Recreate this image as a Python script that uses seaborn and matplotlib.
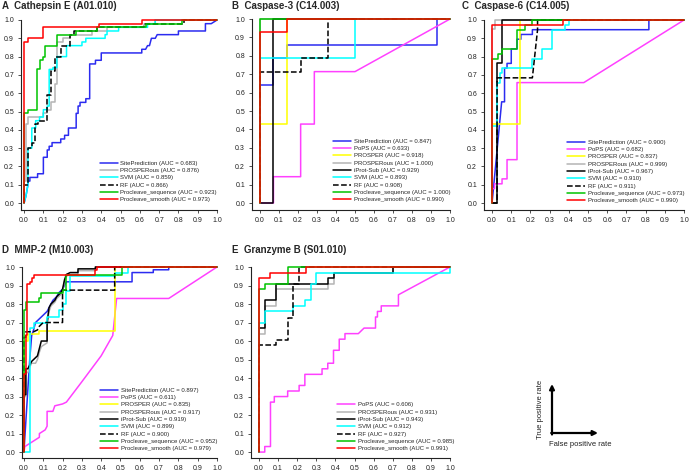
import matplotlib
matplotlib.use("Agg")
import matplotlib.pyplot as plt
import seaborn as sns
import pandas as pd

# ---- ROC curves as (fpr, tpr) vertices ----
# A  Cathepsin E
a_site = [(0, 0), (0.01, 0.04), (0.02, 0.10), (0.02, 0.12), (0.03, 0.12), (0.03, 0.14), (0.07, 0.14), (0.07, 0.16),
          (0.10, 0.16), (0.10, 0.25), (0.12, 0.25), (0.12, 0.29), (0.13, 0.29), (0.13, 0.31), (0.145, 0.31), (0.145, 0.33),
          (0.19, 0.33), (0.19, 0.35), (0.21, 0.35), (0.21, 0.37), (0.23, 0.37), (0.23, 0.41), (0.27, 0.41), (0.27, 0.49),
          (0.28, 0.49), (0.28, 0.53), (0.29, 0.53), (0.29, 0.55), (0.32, 0.55), (0.32, 0.57), (0.34, 0.57), (0.34, 0.76),
          (0.37, 0.76), (0.37, 0.78), (0.40, 0.78), (0.40, 0.82), (0.61, 0.82), (0.61, 0.84), (0.63, 0.84), (0.64, 0.86),
          (0.65, 0.86), (0.66, 0.90), (0.68, 0.90), (0.69, 0.92), (0.80, 0.92), (0.80, 0.94), (0.94, 0.94), (0.94, 0.98),
          (0.97, 0.98), (1, 1)]
a_pros = [(0, 0), (0, 0.12), (0.01, 0.12), (0.01, 0.43), (0.02, 0.43), (0.02, 0.47), (0.10, 0.47), (0.10, 0.49),
          (0.12, 0.49), (0.12, 0.51), (0.14, 0.51), (0.14, 0.55), (0.16, 0.55), (0.16, 0.65), (0.17, 0.65), (0.17, 0.88),
          (0.20, 0.88), (0.20, 0.90), (0.24, 0.90), (0.24, 0.92), (0.35, 0.92), (0.35, 0.94), (0.43, 0.94), (0.43, 0.96),
          (0.62, 0.96), (0.62, 0.98), (0.68, 0.98), (0.68, 1.0), (1, 1)]
a_svm = [(0, 0), (0.01, 0.04), (0.02, 0.10), (0.02, 0.30), (0.04, 0.30), (0.04, 0.41), (0.06, 0.41), (0.06, 0.45),
         (0.08, 0.45), (0.08, 0.47), (0.10, 0.47), (0.10, 0.51), (0.12, 0.51), (0.12, 0.53), (0.13, 0.53), (0.13, 0.73),
         (0.15, 0.73), (0.15, 0.74), (0.17, 0.74), (0.17, 0.80), (0.22, 0.80), (0.22, 0.86), (0.30, 0.86), (0.30, 0.88),
         (0.32, 0.88), (0.32, 0.90), (0.42, 0.90), (0.42, 0.92), (0.43, 0.92), (0.43, 0.94), (0.49, 0.94), (0.49, 0.96),
         (0.64, 0.96), (0.64, 0.98), (0.68, 0.98), (0.68, 1.0), (1, 1)]
a_rf = [(0, 0), (0, 0.10), (0.02, 0.10), (0.02, 0.30), (0.04, 0.30), (0.04, 0.33), (0.055, 0.33), (0.055, 0.43),
        (0.07, 0.43), (0.07, 0.45), (0.12, 0.45), (0.12, 0.59), (0.14, 0.59), (0.14, 0.72), (0.16, 0.72), (0.16, 0.80),
        (0.19, 0.80), (0.19, 0.86), (0.24, 0.86), (0.24, 0.92), (0.26, 0.92), (0.26, 0.94), (0.38, 0.94), (0.38, 0.96),
        (0.62, 0.96), (0.62, 0.98), (0.83, 0.98), (0.83, 1.0), (1, 1)]
a_seq = [(0, 0), (0, 0.49), (0.02, 0.49), (0.02, 0.51), (0.065, 0.51), (0.065, 0.73), (0.08, 0.73), (0.08, 0.78),
         (0.10, 0.78), (0.10, 0.80), (0.11, 0.80), (0.11, 0.86), (0.14, 0.86), (0.14, 0.86), (0.17, 0.86), (0.17, 0.92),
         (0.27, 0.92), (0.27, 0.94), (0.38, 0.94), (0.38, 0.96), (0.63, 0.96), (0.63, 0.98), (0.82, 0.98), (0.82, 1.0),
         (1, 1)]
a_smooth = [(0, 0), (0, 0.88), (0.02, 0.88), (0.02, 0.90), (0.10, 0.90), (0.10, 0.96), (0.39, 0.96), (0.39, 0.98),
            (0.61, 0.98), (0.61, 1.0), (1, 1)]

# B  Caspase-3
b_site = [(0, 0), (0, 0.643), (0.071, 0.643), (0.071, 0.786), (0.143, 0.786), (0.143, 0.857), (0.929, 0.857),
          (0.929, 1.0), (1, 1)]
b_pops = [(0, 0), (0.071, 0), (0.071, 0.143), (0.214, 0.143), (0.214, 0.429), (0.286, 0.429), (0.286, 0.714),
          (0.5, 0.714), (1, 1)]
b_prosper = [(0, 0), (0, 0.429), (0.143, 0.429), (0.143, 1.0), (1, 1)]
b_pros = [(0, 0), (0, 1.0), (1, 1)]
b_iprot = [(0, 0), (0.071, 0), (0.071, 1.0), (1, 1)]
b_svm = [(0, 0), (0, 0.786), (0.5, 0.786), (0.5, 1.0), (1, 1)]
b_rf = [(0, 0), (0, 0.714), (0.214, 0.714), (0.214, 0.786), (0.357, 0.786), (0.357, 1.0), (1, 1)]
b_seq = [(0, 0), (0, 1.0), (1, 1)]
b_smooth = [(0, 0), (0, 0.929), (0.143, 0.929), (0.143, 1.0), (1, 1)]

# C  Caspase-6
c_site = [(0, 0), (0.05, 0.553), (0.065, 0.553), (0.065, 0.737), (0.078, 0.737), (0.078, 0.763), (0.10, 0.763),
          (0.10, 0.842), (0.13, 0.842), (0.13, 0.895), (0.15, 0.895), (0.15, 0.921), (0.21, 0.921), (0.21, 0.947),
          (0.817, 0.947), (0.817, 1.0), (1, 1)]
c_pops = [(0, 0), (0, 0.079), (0.013, 0.079), (0.013, 0.105), (0.052, 0.105), (0.052, 0.132), (0.078, 0.132),
          (0.078, 0.237), (0.13, 0.237), (0.13, 0.658), (0.478, 0.658), (1, 1)]
c_prosper = [(0, 0), (0, 0.43), (0.143, 0.43), (0.143, 1.0), (1, 1)]
c_pros = [(0, 0), (0, 0.95), (0.016, 0.95), (0.016, 1.0), (1, 1)]
c_iprot = [(0, 0), (0.026, 0), (0.026, 0.763), (0.052, 0.763), (0.052, 1.0), (1, 1)]
c_svm = [(0, 0), (0, 0.42), (0.026, 0.42), (0.026, 0.658), (0.04, 0.658), (0.04, 0.711), (0.052, 0.711),
         (0.052, 0.737), (0.21, 0.737), (0.21, 0.789), (0.26, 0.789), (0.26, 0.842), (0.31, 0.842), (0.31, 0.947),
         (0.38, 0.947), (0.38, 0.974), (0.40, 0.974), (0.40, 1.0), (1, 1)]
c_rf = [(0, 0), (0.026, 0), (0.026, 0.684), (0.21, 0.684), (0.237, 0.947), (0.237, 1.0), (1, 1)]
c_seq = [(0, 0), (0, 0.789), (0.03, 0.789), (0.03, 0.816), (0.05, 0.816), (0.05, 0.842), (0.13, 0.842),
         (0.13, 0.947), (0.17, 0.947), (0.17, 0.974), (0.21, 0.974), (0.21, 1.0), (1, 1)]
c_smooth = [(0, 0), (0, 0.974), (0.37, 0.974), (0.37, 1.0), (1, 1)]

# D  MMP-2
d_site = [(0, 0), (0.03, 0.50), (0.04, 0.63), (0.05, 0.66), (0.06, 0.70), (0.08, 0.72), (0.10, 0.74),
          (0.12, 0.76), (0.14, 0.80), (0.15, 0.82), (0.17, 0.84), (0.18, 0.86), (0.20, 0.88), (0.22, 0.92),
          (0.56, 0.92), (0.56, 0.97), (0.67, 0.97), (0.67, 0.985), (0.75, 0.985), (0.75, 1.0), (1, 1)]
d_pops = [(0, 0), (0.005, 0.03), (0.05, 0.06), (0.08, 0.08), (0.08, 0.10), (0.11, 0.12), (0.12, 0.14), (0.12, 0.22),
          (0.15, 0.22), (0.16, 0.25), (0.20, 0.26), (0.22, 0.27), (0.30, 0.38), (0.40, 0.52), (0.46, 0.63),
          (0.48, 0.83), (0.75, 0.83), (1, 1)]
d_prosper = [(0, 0), (0, 0.60), (0.02, 0.60), (0.02, 0.64), (0.08, 0.64), (0.08, 0.655), (0.47, 0.655),
             (0.47, 1.0), (1, 1)]
d_pros = [(0, 0), (0, 0.30), (0.01, 0.30), (0.01, 0.43), (0.02, 0.43), (0.03, 0.46), (0.04, 0.48), (0.06, 0.48),
          (0.07, 0.50), (0.08, 0.54), (0.09, 0.57), (0.12, 0.59), (0.12, 0.68), (0.13, 0.76), (0.14, 0.79),
          (0.16, 0.81), (0.17, 0.83), (0.19, 0.85), (0.20, 0.87), (0.21, 0.92), (0.22, 0.95), (0.24, 0.96),
          (0.28, 0.96), (0.28, 0.98), (0.37, 0.98), (0.37, 1.0), (1, 1)]
d_iprot = [(0, 0), (0, 0.31), (0.01, 0.31), (0.01, 0.45), (0.02, 0.45), (0.03, 0.47), (0.04, 0.49), (0.05, 0.50),
           (0.07, 0.52), (0.08, 0.56), (0.09, 0.60), (0.12, 0.60), (0.12, 0.70), (0.13, 0.78), (0.14, 0.80),
           (0.16, 0.82), (0.17, 0.84), (0.19, 0.86), (0.20, 0.88), (0.21, 0.93), (0.22, 0.96), (0.24, 0.97),
           (0.28, 0.97), (0.28, 0.99), (0.37, 0.99), (0.37, 1.0), (1, 1)]
d_svm = [(0, 0), (0.03, 0), (0.03, 0.67), (0.05, 0.67), (0.05, 0.70), (0.12, 0.70), (0.12, 0.73), (0.18, 0.73),
         (0.18, 0.77), (0.20, 0.77), (0.20, 0.80), (0.22, 0.80), (0.22, 0.87), (0.24, 0.87), (0.24, 0.95),
         (0.47, 0.95), (0.47, 0.97), (0.54, 0.97), (0.54, 1.0), (1, 1)]
d_rf = [(0, 0), (0, 0.62), (0.01, 0.62), (0.01, 0.65), (0.05, 0.65), (0.07, 0.66), (0.08, 0.68), (0.10, 0.70),
        (0.20, 0.70), (0.20, 0.875), (0.47, 0.875), (0.47, 1.0), (1, 1)]
d_seq = [(0, 0), (0, 0.77), (0.01, 0.77), (0.01, 0.81), (0.08, 0.81), (0.08, 0.83), (0.09, 0.83), (0.09, 0.86),
         (0.20, 0.86), (0.20, 0.875), (0.22, 0.875), (0.22, 0.955), (0.51, 0.955), (0.51, 1.0), (1, 1)]
d_smooth = [(0, 0), (0, 0.42), (0.01, 0.42), (0.01, 0.63), (0.015, 0.63), (0.015, 0.91), (0.03, 0.91),
            (0.03, 0.92), (0.04, 0.92), (0.04, 0.94), (0.05, 0.94), (0.05, 0.958), (0.37, 0.958), (0.37, 0.986),
            (0.38, 0.986), (0.38, 1.0), (1, 1)]

# E  Granzyme B
e_pops = [(0, 0), (0.03, 0), (0.03, 0.03), (0.06, 0.03), (0.06, 0.27), (0.08, 0.27), (0.08, 0.30), (0.15, 0.30),
          (0.15, 0.33), (0.21, 0.33), (0.21, 0.36), (0.24, 0.36), (0.24, 0.42), (0.33, 0.42), (0.33, 0.45),
          (0.36, 0.45), (0.36, 0.48), (0.39, 0.48), (0.39, 0.55), (0.42, 0.55), (0.42, 0.61), (0.45, 0.61),
          (0.45, 0.64), (0.52, 0.64), (0.55, 0.67), (0.61, 0.67), (0.61, 0.73), (0.62, 0.73), (0.62, 0.76),
          (0.64, 0.76), (0.64, 0.79), (0.73, 0.79), (0.73, 0.85), (1, 1)]
e_pros = [(0, 0), (0, 0.64), (0.03, 0.64), (0.03, 0.79), (0.09, 0.79), (0.09, 0.88), (0.36, 0.88), (0.36, 0.91),
          (0.39, 0.91), (0.39, 0.97), (0.70, 0.97), (0.70, 1.0), (1, 1)]
e_iprot = [(0, 0), (0, 0.67), (0.03, 0.67), (0.03, 0.82), (0.09, 0.82), (0.09, 0.91), (0.36, 0.91), (0.36, 0.94),
           (0.39, 0.94), (0.39, 0.97), (0.70, 0.97), (0.70, 1.0), (1, 1)]
e_svm = [(0, 0), (0, 0.70), (0.03, 0.70), (0.03, 0.76), (0.18, 0.76), (0.18, 0.79), (0.24, 0.79), (0.24, 0.82),
         (0.27, 0.82), (0.27, 0.91), (0.30, 0.91), (0.30, 0.97), (1.0, 0.97), (1, 1)]
e_rf = [(0, 0), (0, 0.576), (0.09, 0.576), (0.09, 0.606), (0.15, 0.606), (0.15, 0.727), (0.18, 0.727),
        (0.18, 0.909), (0.21, 0.909), (0.21, 1.0), (1, 1)]
e_seq = [(0, 0), (0, 0.88), (0.03, 0.88), (0.03, 0.91), (0.15, 0.91), (0.15, 1.0), (1, 1)]
e_smooth = [(0, 0), (0, 0.94), (0.06, 0.94), (0.06, 0.97), (0.245, 0.97), (0.245, 1.0), (1, 1)]

# AUC values shown in the legends
a_auc = [0.683, 0.876, 0.859, 0.866, 0.923, 0.973]
b_auc = [0.847, 0.633, 0.918, 1.000, 0.929, 0.893, 0.908, 1.000, 0.990]
c_auc = [0.900, 0.682, 0.837, 0.999, 0.967, 0.910, 0.911, 0.973, 0.990]
d_auc = [0.897, 0.611, 0.835, 0.917, 0.919, 0.899, 0.900, 0.952, 0.979]
e_auc = [0.606, 0.931, 0.943, 0.912, 0.927, 0.985, 0.991]

titles = ["A  Cathepsin E (A01.010)", "B  Caspase-3 (C14.003)", "C  Caspase-6 (C14.005)",
          "D  MMP-2 (M10.003)", "E  Granzyme B (S01.010)"]
ticks = [0.0, 0.1, 0.2, 0.3, 0.4, 0.5, 0.6, 0.7, 0.8, 0.9, 1.0]

styles = {
    "SitePrediction": ("#2b2bf0", "-"),
    "PoPS": ("#ff40ff", "-"),
    "PROSPER": ("#ffff00", "-"),
    "PROSPERous": ("#b4b4b4", "-"),
    "iProt-Sub": ("#000000", "-"),
    "SVM": ("#00ffff", "-"),
    "RF": ("#000000", "--"),
    "Procleave_sequence": ("#00c400", "-"),
    "Procleave_smooth": ("#ff0000", "-"),
}

panels = [
    (["SitePrediction", "PROSPERous", "SVM", "RF", "Procleave_sequence", "Procleave_smooth"],
     [a_site, a_pros, a_svm, a_rf, a_seq, a_smooth], a_auc),
    (list(styles), [b_site, b_pops, b_prosper, b_pros, b_iprot, b_svm, b_rf, b_seq, b_smooth], b_auc),
    (list(styles), [c_site, c_pops, c_prosper, c_pros, c_iprot, c_svm, c_rf, c_seq, c_smooth], c_auc),
    (list(styles), [d_site, d_pops, d_prosper, d_pros, d_iprot, d_svm, d_rf, d_seq, d_smooth], d_auc),
    (["PoPS", "PROSPERous", "iProt-Sub", "SVM", "RF", "Procleave_sequence", "Procleave_smooth"],
     [e_pops, e_pros, e_iprot, e_svm, e_rf, e_seq, e_smooth], e_auc),
]

sns.set_style("ticks")
plt.rcParams["font.family"] = ["Liberation Sans", "DejaVu Sans"]

W, H = 689, 474
fig = plt.figure(figsize=(W / 100, H / 100), dpi=100)

# pixel boxes: (left spine, x=1.0, y=1.0, bottom spine), xmin, ymin, legend anchor (x, y in axes)
boxes = [
    ((21, 217, 20, 210), -0.016, -0.038, (1.0, 0.04)),
    ((252, 450, 19, 210), -0.042, -0.038, (1.0, 0.04)),
    ((484, 684, 20, 210), -0.042, -0.038, (1.0, 0.035)),
    ((22, 217, 267, 458), -0.010, -0.032, (1.0, 0.035)),
    ((251, 450, 267, 458), -0.042, -0.032, (1.02, 0.035)),
]
title_pos = [(2, 6), (232, 6), (462, 6), (2, 250), (232, 250)]

for (names, curves, aucs), (box, xmin, ymin, anchor), title, tpos in zip(panels, boxes, titles, title_pos):
    x0, x1, yt, yb = box
    ax = fig.add_axes([x0 / W, (H - yb) / H, (x1 - x0) / W, (yb - yt) / H])
    for name, pts, auc in zip(names, curves, aucs):
        df = pd.DataFrame(pts, columns=["fpr", "tpr"])
        color, ls = styles[name]
        sns.lineplot(data=df, x="fpr", y="tpr", sort=False, estimator=None, ax=ax, color=color,
                     linestyle=ls, lw=1.1, label=f"{name} (AUC = {auc:.3f})", clip_on=False)
    ax.set_xlim(xmin, 1.0)
    ax.set_ylim(ymin, 1.0)
    ax.set_xticks(ticks)
    ax.set_yticks(ticks)
    ax.set_xticklabels([f"{t:.1f}" for t in ticks])
    ax.set_yticklabels([f"{t:.1f}" for t in ticks])
    ax.set_xlabel("")
    ax.set_ylabel("")
    ax.tick_params(labelsize=5, length=2, width=0.6, pad=3, color="#333333", labelcolor="#222222")
    for s in ["left", "bottom"]:
        ax.spines[s].set_linewidth(0.8)
        ax.spines[s].set_color("#222222")
    sns.despine(ax=ax)
    ax.legend(loc="lower right", bbox_to_anchor=anchor, frameon=False, fontsize=4.3,
              handlelength=3.0, handletextpad=0.4, labelspacing=0.36, borderpad=0, borderaxespad=0)
    fig.text(tpos[0] / W, 1 - tpos[1] / H, title, fontsize=7.0, fontweight="bold", ha="left", va="center")

# axis key in the empty sixth slot
key = fig.add_axes([0, 0, 1, 1])
key.set_xlim(0, W)
key.set_ylim(H, 0)
key.axis("off")
key.annotate("", xy=(552, 384), xytext=(552, 434.5),
             arrowprops=dict(arrowstyle="-|>", lw=1.6, color="black", mutation_scale=7, shrinkA=0, shrinkB=0))
key.annotate("", xy=(598, 433), xytext=(551.2, 433),
             arrowprops=dict(arrowstyle="-|>", lw=1.6, color="black", mutation_scale=7, shrinkA=0, shrinkB=0))
key.text(540, 409, "True positive rate", rotation=90, fontsize=5.5, ha="center", va="center", color="#222222")
key.text(580, 444, "False positive rate", fontsize=5.5, ha="center", va="center", color="#222222")

fig.savefig("out.png", dpi=100)
